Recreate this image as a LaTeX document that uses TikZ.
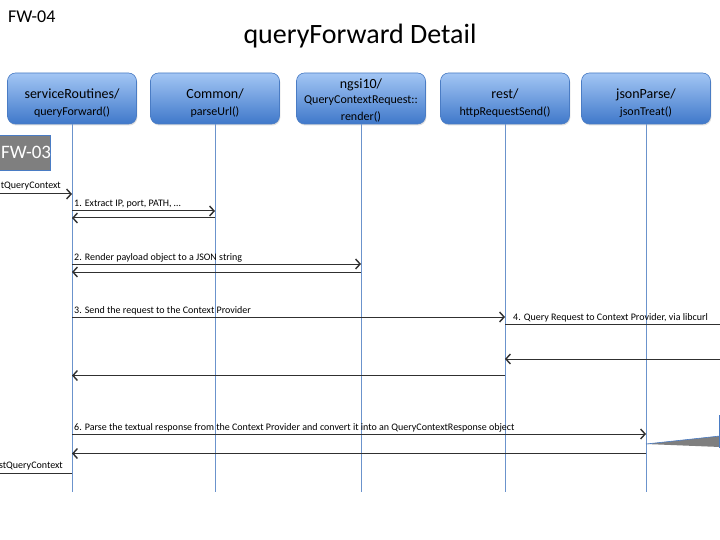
\documentclass[tikz,border=0pt]{standalone}
\usepackage{fontspec}
\setmainfont{Carlito}
\usetikzlibrary{arrows.meta,shadows}
\definecolor{boxtop}{HTML}{A3C6F4}
\definecolor{boxbot}{HTML}{3F78CA}
\definecolor{boxedge}{HTML}{4A7CC4}
\definecolor{lifeblue}{HTML}{6B93CC}
\definecolor{fwgray}{HTML}{7F7F7F}
\definecolor{msggray}{HTML}{303030}
\tikzset{
  objbox/.style={draw=boxedge, line width=0.6pt, rounded corners=8pt,
    top color=boxtop, bottom color=boxbot, minimum width=129pt,
    minimum height=51pt, inner sep=0pt,
    drop shadow={opacity=0.25, shadow xshift=0.8pt, shadow yshift=-1.5pt}},
  boxtext/.style={align=center, inner sep=0pt, font=\fontsize{14}{16}\selectfont},
  lifeline/.style={draw=lifeblue, line width=1pt},
  msg/.style={draw=msggray, line width=1pt},
  arr/.style={msg, -{Straight Barb[length=4.5pt,width=10pt,line width=1.4pt]}},
  msglabel/.style={font=\fontsize{10}{12}\selectfont, inner sep=0pt, anchor=base west},
}
\newcommand{\lineA}[1]{{\fontsize{14}{16}\selectfont #1}}
\newcommand{\lineB}[1]{{\fontsize{12}{14}\selectfont #1}}
\begin{document}
\begin{tikzpicture}[x=1pt,y=-1pt]
\useasboundingbox (0,0) rectangle (720,540);
\clip (0,0) rectangle (720,540);
\fill[white] (0,0) rectangle (720,540);

% header texts
\node[font=\fontsize{18}{20}\selectfont, anchor=west, inner sep=0pt] (fw4) at (8,17) {FW-04};
\node[font=\fontsize{28}{32}\selectfont, inner sep=0pt] (title) at (360,36) {queryForward Detail};

% object boxes
\node[objbox] (sr) at (72,98.5) {};
\node[objbox] (cm) at (215,98.5) {};
\node[objbox] (ng) at (361,98.5) {};
\node[objbox] (rs) at (505,98.5) {};
\node[objbox] (jp) at (646,98.5) {};
\node[boxtext] (srt) at ([yshift=-5pt]sr.center) {\lineA{serviceRoutines/}\\[1pt]\lineB{queryForward()}};
\node[boxtext] (cmt) at ([yshift=-5pt]cm.center) {\lineA{Common/}\\[1pt]\lineB{parseUrl()}};
\node[boxtext] (ngt) at ([yshift=-2pt]ng.center) {\lineA{ngsi10/}\\[-1pt]\lineB{QueryContextRequest::}\\[1pt]\lineB{render()}};
\node[boxtext] (rst) at ([yshift=-5pt]rs.center) {\lineA{rest/}\\[1pt]\lineB{httpRequestSend()}};
\node[boxtext] (jpt) at ([yshift=-5pt]jp.center) {\lineA{jsonParse/}\\[1pt]\lineB{jsonTreat()}};

% lifelines
\foreach \n in {sr,cm,ng,rs,jp} {
  \coordinate (\n-end) at (\n.south |- 0,492);
  \draw[lifeline] (\n.south) -- (\n-end);
}

% FW-03 box
\node[fill=fwgray, draw=boxedge, line width=0.6pt, minimum width=62pt, minimum height=35pt,
      inner sep=0pt] (fw3) at (19.5,152.5) {};
\node[text=white, font=\fontsize{19}{21}\selectfont, inner sep=0pt, anchor=west] (fw3t) at (1,152.5) {FW-03};

% outside coordinates
\coordinate (in1) at (0,194);
\coordinate (out1) at (0,473);
\coordinate (cpA) at (720,324);
\coordinate (cpB) at (720,359);

% incoming call
\node[font=\fontsize{10}{12}\selectfont, inner sep=0pt, anchor=base east] (inlab) at (61,189) {tQueryContext};
\draw[arr] (in1) -- (sr.south |- in1);

% 1
\node[msglabel] (l1) at (74,207) {1. Extract IP, port, PATH, …};
\draw[arr] (sr.south |- 0,211) -- (cm.south |- 0,211);
\draw[arr] (cm.south |- 0,218) -- (sr.south |- 0,218);

% 2
\node[msglabel] (l2) at (74,260) {2. Render payload object to a JSON string};
\draw[arr] (sr.south |- 0,264) -- (ng.south |- 0,264);
\draw[arr] (ng.south |- 0,272) -- (sr.south |- 0,272);

% 3
\node[msglabel] (l3) at (74,313) {3. Send the request to the Context Provider};
\draw[arr] (sr.south |- 0,317) -- (rs.south |- 0,317);

% 4
\node[msglabel] (l4) at (513,320) {4. Query Request to Context Provider, via libcurl};
\draw[msg] (rs.south |- cpA) -- (cpA);
\draw[arr] (cpB) -- (rs.south |- cpB);

% 5 (return)
\draw[arr] (rs.south |- 0,375.5) -- (sr.south |- 0,375.5);

% 6
\node[msglabel] (l6) at (74,430) {6. Parse the textual response from the Context Provider and convert it into an QueryContextResponse object};
\draw[arr] (sr.south |- 0,434) -- (jp.south |- 0,434);
\draw[arr] (jp.south |- 0,453.5) -- (sr.south |- 0,453.5);

% triangle to the right
\fill[fwgray] (jp.south |- 0,444) -- (720,436) -- (720,447) -- cycle;
\draw[boxedge, line width=0.6pt] (jp.south |- 0,444) -- (720,436);
\draw[boxedge, line width=0.8pt] (719.5,415) -- (719.5,448);

% outgoing response
\node[font=\fontsize{10}{12}\selectfont, inner sep=0pt, anchor=base east] (outlab) at (63,468) {stQueryContext};
\draw[msg] (sr.south |- out1) -- (out1);
\end{tikzpicture}
\end{document}
